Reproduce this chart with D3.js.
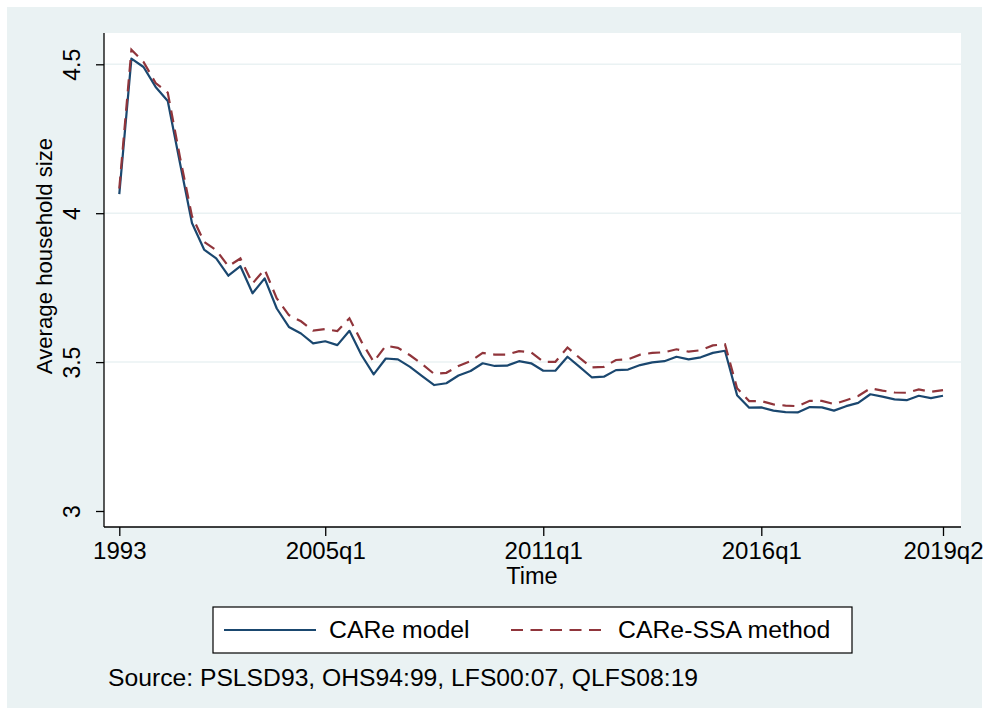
<!DOCTYPE html>
<html>
<head>
<meta charset="utf-8">
<script src="https://cdn.jsdelivr.net/npm/d3@7"></script>
<style>
  html, body { margin: 0; padding: 0; background: #fff; }
  text { font-family: "Liberation Sans", Arial, sans-serif; fill: #000; }
</style>
</head>
<body>
<div id="chart"></div>
<script>
// survey rounds, in order: 1993, 1994-99 annual, 2000-07 twice a year, 2008q1-2019q2
const periodIndex = d3.range(69);
const tickIdx = [0, 17, 35, 53, 68];
const tickLabels = ['1993', '2005q1', '2011q1', '2016q1', '2019q2'];
const yTicks = [3, 3.5, 4, 4.5];

const careModel = [4.064, 4.519, 4.491, 4.424, 4.377, 4.17, 3.967, 3.878, 3.848, 3.790, 3.822, 3.731, 3.781, 3.680, 3.618, 3.596, 3.563,
  3.570, 3.557, 3.605, 3.523, 3.459, 3.512, 3.509, 3.484, 3.453, 3.423, 3.429, 3.455, 3.470,
  3.496, 3.487, 3.488, 3.503, 3.496, 3.471, 3.471, 3.518, 3.484, 3.449, 3.451, 3.473, 3.475,
  3.490, 3.499, 3.503, 3.518, 3.509, 3.516, 3.531, 3.538, 3.389, 3.347, 3.348, 3.337, 3.332,
  3.331, 3.349, 3.348, 3.337, 3.352, 3.363, 3.392, 3.384, 3.375, 3.372, 3.387, 3.379, 3.387];

const careSSA = [4.083, 4.549, 4.508, 4.437, 4.405, 4.19, 3.990, 3.904, 3.876, 3.822, 3.848, 3.764, 3.811, 3.714, 3.658, 3.637, 3.606,
  3.611, 3.604, 3.647, 3.568, 3.501, 3.555, 3.548, 3.523, 3.493, 3.460, 3.464, 3.487, 3.503,
  3.531, 3.525, 3.525, 3.537, 3.533, 3.501, 3.501, 3.549, 3.514, 3.482, 3.484, 3.507, 3.509,
  3.525, 3.531, 3.533, 3.543, 3.535, 3.540, 3.556, 3.560, 3.412, 3.369, 3.369, 3.358, 3.354,
  3.352, 3.370, 3.370, 3.359, 3.372, 3.386, 3.412, 3.404, 3.398, 3.397, 3.408, 3.400, 3.406];

const W = 989, H = 715;
const bg = '#eaf2f3';
const navy = '#1a476f', maroon = '#90353b';
const dash = '12,7.5';

const svg = d3.select('#chart').append('svg')
    .attr('width', W).attr('height', H);

// outer graph region
svg.append('rect').attr('x', 7).attr('y', 7).attr('width', W - 14).attr('height', H - 14).attr('fill', bg);

// plot region
const plot = { left: 104, right: 961, top: 33, bottom: 527 };
svg.append('rect')
    .attr('x', plot.left).attr('y', plot.top)
    .attr('width', plot.right - plot.left).attr('height', plot.bottom - plot.top)
    .attr('fill', '#fff');

const x = d3.scaleLinear().domain([0, 68]).range([119.3, 943]);
const y = d3.scaleLinear().domain([3, 4.5]).range([511, 64.3]);

// grid lines
svg.append('g').selectAll('line').data(yTicks.filter(d => d > 3)).join('line')
    .attr('x1', plot.left).attr('x2', plot.right)
    .attr('y1', d => y(d)).attr('y2', d => y(d))
    .attr('stroke', bg).attr('stroke-width', 1.5);

// y axis
const yAxis = svg.append('g').attr('transform', `translate(${plot.left},0)`)
    .call(d3.axisLeft(y).tickValues(yTicks).tickSize(8).tickFormat(d3.format('')));
yAxis.select('.domain').attr('d', `M0,${plot.top}V${plot.bottom}`).attr('stroke-width', 1.3);
yAxis.selectAll('.tick line').attr('stroke-width', 1.3);
yAxis.selectAll('.tick text')
    .attr('x', 0).attr('y', 0).attr('dy', null)
    .attr('text-anchor', 'middle')
    .attr('transform', 'translate(-24,0) rotate(-90)')
    .style('font-size', '23px');

// x axis
const xAxis = svg.append('g').attr('transform', `translate(0,${plot.bottom})`)
    .call(d3.axisBottom(x).tickValues(tickIdx).tickSize(9)
        .tickFormat((d, i) => tickLabels[i]));
xAxis.select('.domain').attr('d', `M${plot.left},0H${plot.right}`).attr('stroke-width', 1.3);
xAxis.selectAll('.tick line').attr('stroke-width', 1.3);
xAxis.selectAll('.tick text').attr('y', 32).attr('dy', null).style('font-size', '24px');

// axis titles
svg.append('text')
    .attr('transform', 'translate(52,256) rotate(-90)')
    .attr('text-anchor', 'middle')
    .style('font-size', '22.2px')
    .text('Average household size');

svg.append('text')
    .attr('x', (plot.left + plot.right) / 2 - 0.5).attr('y', 584)
    .attr('text-anchor', 'middle')
    .style('font-size', '23.5px')
    .text('Time');

// series
const line = values => d3.line()
    .x(d => x(d))
    .y(d => y(values[d]))(periodIndex);

svg.append('path').attr('d', line(careModel))
    .attr('fill', 'none').attr('stroke', navy).attr('stroke-width', 2.2)
    .attr('stroke-linejoin', 'round');
svg.append('path').attr('d', line(careSSA))
    .attr('fill', 'none').attr('stroke', maroon).attr('stroke-width', 2.2)
    .attr('stroke-dasharray', dash);

// legend
const legend = svg.append('g');
legend.append('rect').attr('x', 213).attr('y', 607).attr('width', 639).attr('height', 46)
    .attr('fill', '#fff').attr('stroke', '#000').attr('stroke-width', 1.2);
legend.append('line').attr('x1', 224).attr('x2', 316).attr('y1', 630).attr('y2', 630)
    .attr('stroke', navy).attr('stroke-width', 2.2);
legend.append('text').attr('x', 329).attr('y', 638).style('font-size', '24.8px').text('CARe model');
legend.append('line').attr('x1', 511).attr('x2', 604).attr('y1', 630).attr('y2', 630)
    .attr('stroke', maroon).attr('stroke-width', 2.2).attr('stroke-dasharray', dash);
legend.append('text').attr('x', 618).attr('y', 638).style('font-size', '24.8px').text('CARe-SSA method');

// note
svg.append('text').attr('x', 108).attr('y', 686).style('font-size', '24.7px')
    .text('Source: PSLSD93, OHS94:99, LFS00:07, QLFS08:19');
</script>
</body>
</html>
